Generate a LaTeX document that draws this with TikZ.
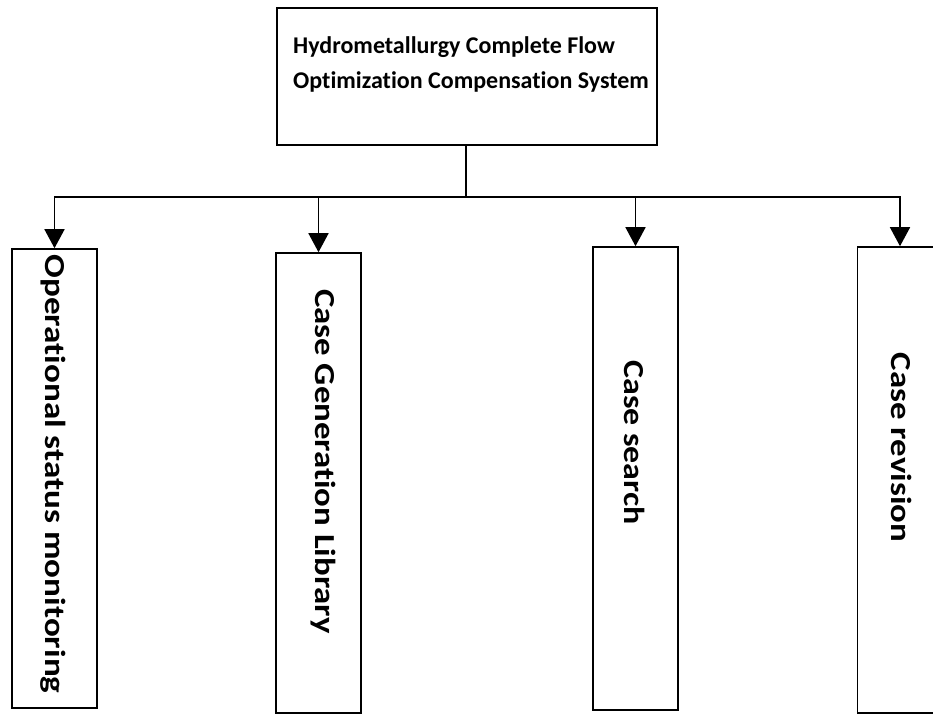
\documentclass[tikz,border=0pt]{standalone}
\usepackage{fontspec}
\usepackage{graphicx}
\setmainfont{Carlito}[Ligatures=CommonOff]
\usetikzlibrary{arrows.meta}
\tikzset{
  boxline/.style={draw=black, line width=1.6pt, inner sep=0pt},
  colbox/.style={boxline, minimum width=85pt},
  titlefont/.style={font=\fontsize{24}{30}\selectfont\bfseries, inner sep=0pt, anchor=base west},
  vtext/.style={font=\fontsize{29}{34}\selectfont\bfseries, inner sep=0pt, anchor=base, rotate=-90},
  conn/.style={draw=black, line width=1.6pt},
  arr/.style={conn, -{Triangle[width=20pt,length=19pt]}}
}
\newcommand{\vstretch}[2]{\scalebox{#1}[1]{#2}}
\begin{document}
\begin{tikzpicture}[x=1pt, y=-1pt]
\useasboundingbox (0,0) rectangle (933,715);
\clip (0,0) rectangle (933,715);
% top box
\node[boxline, minimum width=380pt, minimum height=137pt] (top) at (467,76.5) {};
\node[titlefont] (t1) at (293,53) {Hydrometallurgy Complete Flow};
\node[titlefont] (t2) at (293,88) {Optimization Compensation System};
% column boxes
\node[colbox, minimum height=459pt] (b1) at (54.5,478.5) {};
\node[colbox, minimum height=460pt] (b2) at (318.5,483) {};
\node[colbox, minimum height=463pt] (b3) at (635.5,478.5) {};
\node[colbox, minimum height=466pt] (b4) at (900,480) {};
% vertical labels
\node[vtext] (l1) at (45.5,474) {\vstretch{1.21}{Operational status monitoring}};
\node[vtext] (l2) at (315.5,461.5) {\vstretch{1.2}{Case Generation Library}};
\node[vtext] (l3) at (624.5,442.5) {\vstretch{1.17}{Case search}};
\node[vtext] (l4) at (891.5,447.5) {\vstretch{1.2}{Case revision}};
% connectors
\coordinate (bus) at (466,197);
\draw[conn] (top.south -| bus) -- (bus);
\draw[arr] (bus) -| (b1.north);
\draw[arr] (bus) -| (b2.north);
\draw[arr] (bus) -| (b3.north);
\draw[arr] (bus) -| (b4.north);
\end{tikzpicture}
\end{document}
